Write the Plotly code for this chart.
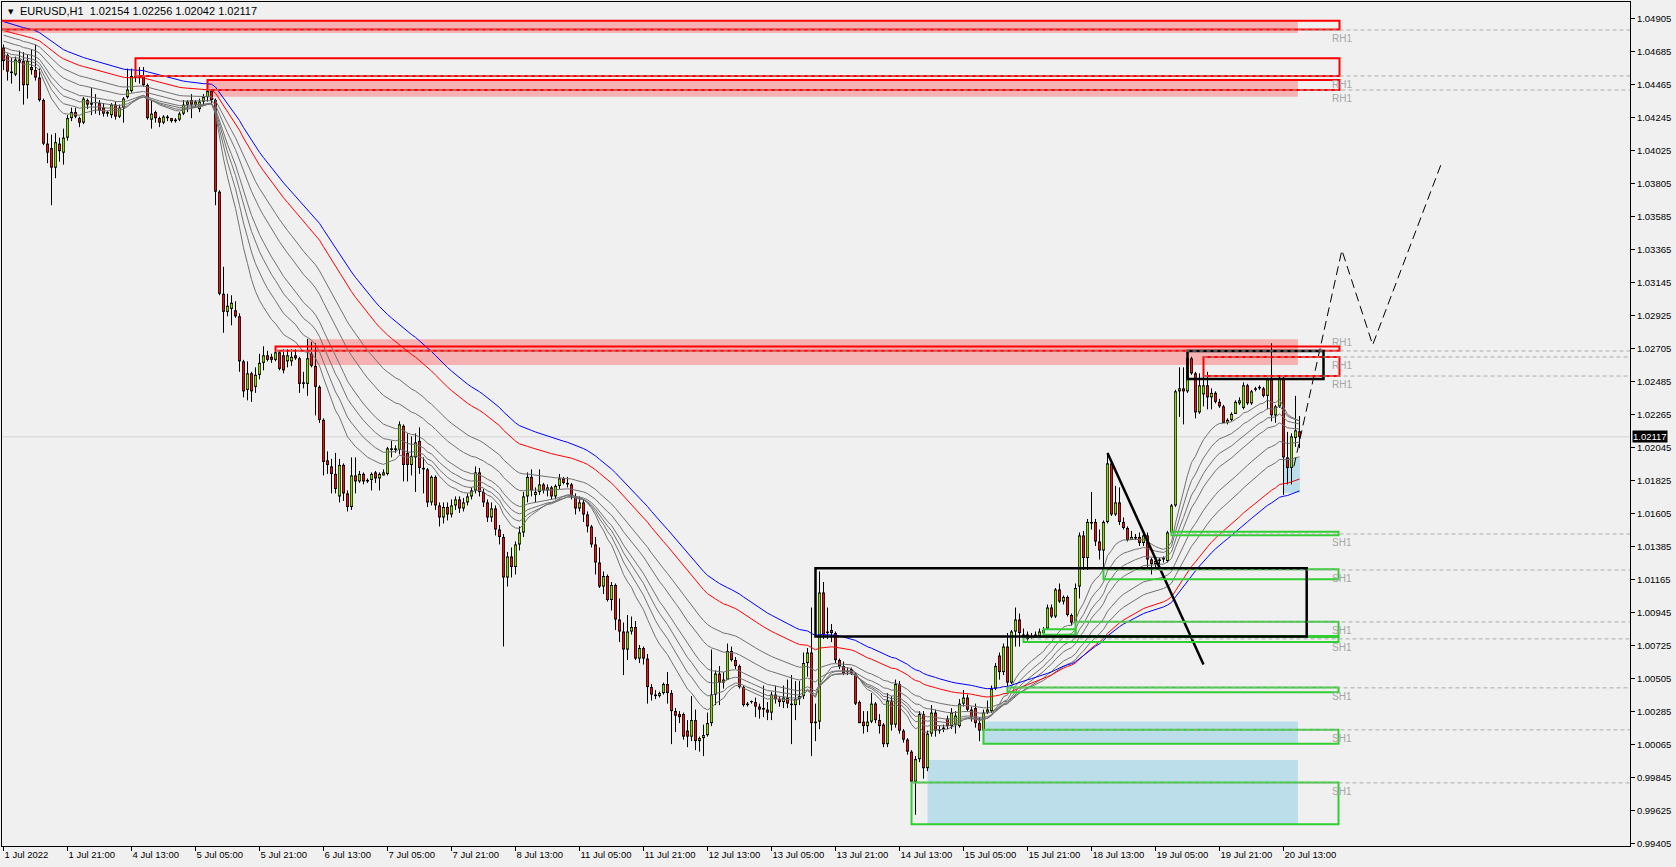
import plotly.graph_objects as go

# EURUSD H1, bar 0 = 1 Jul 2022 05:00, bar 324 = 20 Jul 2022 17:00
opens = [
    1.0471, 1.0466, 1.0455, 1.0453, 1.0463, 1.0462, 1.0446, 1.0458, 1.0456, 1.0451,  # 0
    1.0436, 1.0407, 1.0404, 1.0391, 1.0407, 1.0401, 1.0411, 1.0424, 1.0428, 1.0424,  # 10
    1.0421, 1.0436, 1.0434, 1.0434, 1.0434, 1.0431, 1.0428, 1.0426, 1.0433, 1.0425,  # 20
    1.0431, 1.0438, 1.0442, 1.0452, 1.0451, 1.0452, 1.0446, 1.0423, 1.0428, 1.0424,  # 30
    1.0421, 1.0424, 1.0424, 1.0422, 1.0423, 1.0427, 1.0433, 1.0436, 1.0433, 1.0430,  # 40
    1.0435, 1.0438, 1.0442, 1.0436, 1.0375, 1.0307, 1.0295, 1.0297, 1.0296, 1.0292,  # 50
    1.0262, 1.0243, 1.0254, 1.0245, 1.0253, 1.0261, 1.0266, 1.0265, 1.0263, 1.0268,  # 60
    1.0266, 1.0262, 1.0262, 1.0266, 1.0264, 1.0247, 1.0247, 1.0267, 1.0259, 1.0245,  # 70
    1.0223, 1.0196, 1.0192, 1.0187, 1.0172, 1.0193, 1.0174, 1.0165, 1.0186, 1.0182,  # 80
    1.0187, 1.0182, 1.0183, 1.0188, 1.0184, 1.0186, 1.0187, 1.0204, 1.0204, 1.0203,  # 90
    1.0219, 1.0201, 1.0193, 1.0198, 1.0209, 1.0191, 1.0190, 1.0168, 1.0185, 1.0166,  # 100
    1.0158, 1.0165, 1.0160, 1.0166, 1.0170, 1.0164, 1.0168, 1.0172, 1.0176, 1.0188,  # 110
    1.0175, 1.0168, 1.0158, 1.0164, 1.0150, 1.0145, 1.0118, 1.0132, 1.0125, 1.0140,  # 120
    1.0148, 1.0172, 1.0185, 1.0173, 1.0175, 1.0180, 1.0176, 1.0178, 1.0172, 1.0179,  # 130
    1.0184, 1.0181, 1.0180, 1.0172, 1.0164, 1.0168, 1.0160, 1.0152, 1.0140, 1.0128,  # 140
    1.0112, 1.0119, 1.0103, 1.0113, 1.0090, 1.0082, 1.0070, 1.0082, 1.0085, 1.0064,  # 150
    1.0071, 1.0064, 1.0045, 1.0040, 1.0039, 1.0041, 1.0047, 1.0041, 1.0029, 1.0027,  # 160
    1.0027, 1.0016, 1.0012, 1.0023, 1.0009, 1.0011, 1.0013, 1.0021, 1.0040, 1.0054,  # 170
    1.0048, 1.0050, 1.0069, 1.0063, 1.0059, 1.0045, 1.0033, 1.0035, 1.0035, 1.0032,  # 180
    1.0031, 1.0030, 1.0028, 1.0040, 1.0037, 1.0035, 1.0038, 1.0034, 1.0033, 1.0037,  # 190
    1.0039, 1.0061, 1.0068, 1.0021, 1.0022, 1.0108, 1.0082, 1.0083, 1.0081, 1.0063,  # 200
    1.0059, 1.0055, 1.0057, 1.0054, 1.0035, 1.0022, 1.0019, 1.0022, 1.0034, 1.0023,  # 210
    1.0020, 1.0007, 1.0036, 1.0020, 1.0047, 1.0016, 1.0010, 1.0002, 0.9982, 0.9997,  # 220
    1.0027, 0.9991, 1.0014, 1.0028, 1.0016, 1.0017, 1.0024, 1.0019, 1.0020, 1.0019,  # 230
    1.0034, 1.0038, 1.0030, 1.0031, 1.0021, 1.0016, 1.0028, 1.0029, 1.0044, 1.0066,  # 240
    1.0055, 1.0072, 1.0048, 1.0082, 1.0090, 1.0080, 1.0080, 1.0078, 1.0079, 1.0079,  # 250
    1.0081, 1.0084, 1.0098, 1.0092, 1.0110, 1.0102, 1.0105, 1.0093, 1.0088, 1.0112,  # 260
    1.0146, 1.0131, 1.0155, 1.0155, 1.0142, 1.0136, 1.0155, 1.0194, 1.0160, 1.0168,  # 270
    1.0155, 1.0151, 1.0143, 1.0144, 1.0145, 1.0141, 1.0146, 1.0130, 1.0127, 1.0129,  # 280
    1.0130, 1.0129, 1.0148, 1.0166, 1.0242, 1.0244, 1.0242, 1.0264, 1.0254, 1.0228,  # 290
    1.0240, 1.0246, 1.0238, 1.0241, 1.0235, 1.0232, 1.0221, 1.0223, 1.0227, 1.0234,  # 300
    1.0231, 1.0246, 1.0234, 1.0243, 1.0244, 1.0244, 1.0239, 1.0250, 1.0226, 1.0232,  # 310
    1.0251, 1.0198, 1.0191, 1.0211, 1.02154,                                          # 320
]
highs = [
    1.0473, 1.0467, 1.0464, 1.0465, 1.0469, 1.0468, 1.0466, 1.0470, 1.0473, 1.0457,
    1.0437, 1.0414, 1.0413, 1.0414, 1.0411, 1.0417, 1.0426, 1.0431, 1.0431, 1.0425,
    1.0438, 1.0437, 1.0444, 1.0440, 1.0436, 1.0434, 1.0429, 1.0434, 1.0435, 1.0433,
    1.0438, 1.0457, 1.0457, 1.0458, 1.0458, 1.0458, 1.0447, 1.0436, 1.0429, 1.0425,
    1.0426, 1.0426, 1.0424, 1.0424, 1.0428, 1.0436, 1.0436, 1.0440, 1.0436, 1.0437,
    1.0440, 1.0443, 1.0443, 1.0437, 1.0376, 1.0325, 1.0307, 1.0306, 1.0302, 1.0294,
    1.0263, 1.0262, 1.0255, 1.0258, 1.0267, 1.0272, 1.0269, 1.0267, 1.0270, 1.0269,
    1.0270, 1.0270, 1.0270, 1.0270, 1.0265, 1.0255, 1.0277, 1.0275, 1.0274, 1.0246,
    1.0224, 1.0202, 1.0197, 1.0201, 1.0197, 1.0194, 1.0176, 1.0198, 1.0198, 1.0189,
    1.0188, 1.0184, 1.0188, 1.0189, 1.0188, 1.0190, 1.0205, 1.0209, 1.0206, 1.0222,
    1.0220, 1.0214, 1.0212, 1.0214, 1.0218, 1.0198, 1.0191, 1.0186, 1.0186, 1.0168,
    1.0168, 1.0168, 1.0170, 1.0172, 1.0172, 1.0171, 1.0174, 1.0178, 1.0192, 1.0191,
    1.0177, 1.0170, 1.0168, 1.0166, 1.0153, 1.0147, 1.0135, 1.0138, 1.0142, 1.0152,
    1.0175, 1.0188, 1.0190, 1.0178, 1.0190, 1.0181, 1.0180, 1.0179, 1.0180, 1.0187,
    1.0185, 1.0185, 1.0181, 1.0174, 1.0172, 1.0170, 1.0162, 1.0153, 1.0145, 1.0138,
    1.0122, 1.0120, 1.0115, 1.0114, 1.0104, 1.0088, 1.0093, 1.0092, 1.0089, 1.0073,
    1.0072, 1.0067, 1.0047, 1.0043, 1.0042, 1.0048, 1.0055, 1.0043, 1.0031, 1.0029,
    1.0028, 1.0023, 1.0039, 1.0030, 1.0012, 1.0020, 1.0028, 1.0070, 1.0056, 1.0059,
    1.0055, 1.0074, 1.0072, 1.0065, 1.0060, 1.0046, 1.0035, 1.0036, 1.0038, 1.0034,
    1.0046, 1.0035, 1.0042, 1.0046, 1.0039, 1.0046, 1.0050, 1.0053, 1.0049, 1.0049,
    1.0068, 1.0071, 1.0098, 1.0034, 1.0122, 1.0115, 1.0098, 1.0087, 1.0082, 1.0064,
    1.0062, 1.0058, 1.0058, 1.0055, 1.0036, 1.0029, 1.0029, 1.0041, 1.0035, 1.0027,
    1.0021, 1.0041, 1.0039, 1.0050, 1.0049, 1.0017, 1.0011, 1.0003, 0.9999, 1.0029,
    1.0029, 1.0016, 1.0033, 1.0030, 1.0019, 1.0020, 1.0026, 1.0031, 1.0029, 1.0037,
    1.0043, 1.0040, 1.0032, 1.0034, 1.0025, 1.0030, 1.0036, 1.0046, 1.0061, 1.0068,
    1.0074, 1.0081, 1.0083, 1.0098, 1.0094, 1.0084, 1.0082, 1.0081, 1.0082, 1.0084,
    1.0085, 1.0100, 1.0100, 1.0111, 1.0114, 1.0106, 1.0106, 1.0094, 1.0114, 1.0148,
    1.0149, 1.0157, 1.0175, 1.0157, 1.0150, 1.0156, 1.0201, 1.0195, 1.0179, 1.0178,
    1.0158, 1.0152, 1.0149, 1.0147, 1.0148, 1.0149, 1.0148, 1.0131, 1.0131, 1.0131,
    1.0132, 1.0149, 1.0167, 1.0243, 1.0258, 1.0258, 1.0269, 1.0265, 1.0255, 1.0254,
    1.0254, 1.0255, 1.0244, 1.0242, 1.0237, 1.0233, 1.0224, 1.0228, 1.0236, 1.0238,
    1.0248, 1.0247, 1.0243, 1.0245, 1.0246, 1.0245, 1.0251, 1.0274, 1.0233, 1.0252,
    1.0252, 1.0215, 1.0214, 1.0239, 1.02256,
]
lows = [
    1.0456, 1.0449, 1.0447, 1.0452, 1.0442, 1.0433, 1.0437, 1.0453, 1.0449, 1.0435,
    1.0406, 1.0394, 1.0366, 1.0384, 1.0395, 1.0393, 1.0409, 1.0422, 1.0424, 1.0418,
    1.0420, 1.0430, 1.0426, 1.0427, 1.0426, 1.0425, 1.0425, 1.0424, 1.0423, 1.0424,
    1.0421, 1.0437, 1.0441, 1.0448, 1.0447, 1.0445, 1.0423, 1.0417, 1.0421, 1.0418,
    1.0420, 1.0422, 1.0421, 1.0421, 1.0422, 1.0426, 1.0428, 1.0424, 1.0431, 1.0428,
    1.0433, 1.0435, 1.0434, 1.0366, 1.0306, 1.0281, 1.0292, 1.0286, 1.0291, 1.0255,
    1.0238, 1.0236, 1.0235, 1.0241, 1.0250, 1.0256, 1.0262, 1.0261, 1.0262, 1.0256,
    1.0254, 1.0258, 1.0259, 1.0263, 1.0241, 1.0244, 1.0239, 1.0258, 1.0226, 1.0221,
    1.0186, 1.0187, 1.0174, 1.0174, 1.0168, 1.0169, 1.0162, 1.0163, 1.0174, 1.0181,
    1.0180, 1.0181, 1.0176, 1.0181, 1.0176, 1.0186, 1.0186, 1.0198, 1.0201, 1.0200,
    1.0182, 1.0182, 1.0186, 1.0175, 1.0187, 1.0174, 1.0165, 1.0166, 1.0163, 1.0152,
    1.0154, 1.0156, 1.0158, 1.0163, 1.0161, 1.0162, 1.0166, 1.0170, 1.0174, 1.0172,
    1.0165, 1.0155, 1.0155, 1.0146, 1.0140, 1.0072, 1.0112, 1.0118, 1.0120, 1.0136,
    1.0145, 1.0168, 1.0172, 1.0168, 1.0173, 1.0174, 1.0172, 1.0170, 1.0170, 1.0177,
    1.0180, 1.0178, 1.0170, 1.0160, 1.0162, 1.0155, 1.0148, 1.0138, 1.0120, 1.0111,
    1.0107, 1.0102, 1.0096, 1.0083, 1.0075, 1.0053, 1.0063, 1.0080, 1.0063, 1.0061,
    1.0060, 1.0034, 1.0036, 1.0037, 1.0038, 1.0040, 1.0034, 1.0007, 1.0015, 1.0021,
    1.0010, 1.0005, 1.0009, 1.0003, 1.0002, 0.9999, 1.0012, 1.0019, 1.0033, 1.0033,
    1.0044, 1.0050, 1.0062, 1.0057, 1.0044, 1.0032, 1.0032, 1.0034, 1.0025, 1.0024,
    1.0025, 1.0023, 1.0023, 1.0034, 1.0032, 1.0031, 1.0031, 1.0007, 1.0023, 1.0033,
    1.0037, 1.0052, 0.9999, 1.0009, 1.0017, 1.0077, 1.0077, 1.0075, 1.0061, 1.0057,
    1.0053, 1.0053, 1.0053, 1.0033, 1.0021, 1.0014, 1.0015, 1.0021, 1.0021, 1.0014,
    1.0005, 1.0005, 1.0016, 1.0018, 1.0014, 1.0008, 1.0000, 0.9981, 0.9960, 0.9995,
    0.9984, 0.9989, 1.0012, 1.0012, 1.0014, 1.0015, 1.0017, 1.0017, 1.0014, 1.0018,
    1.0032, 1.0029, 1.0022, 1.0018, 1.0009, 1.0014, 1.0027, 1.0028, 1.0043, 1.0050,
    1.0053, 1.0043, 1.0047, 1.0072, 1.0072, 1.0075, 1.0076, 1.0077, 1.0078, 1.0078,
    1.0080, 1.0083, 1.0091, 1.0091, 1.0101, 1.0100, 1.0092, 1.0086, 1.0087, 1.0104,
    1.0123, 1.0123, 1.0150, 1.0139, 1.0130, 1.0123, 1.0154, 1.0159, 1.0159, 1.0153,
    1.0150, 1.0142, 1.0143, 1.0143, 1.0139, 1.0139, 1.0124, 1.0120, 1.0125, 1.0126,
    1.0128, 1.0128, 1.0146, 1.0165, 1.0225, 1.0220, 1.0241, 1.0253, 1.0224, 1.0227,
    1.0232, 1.0230, 1.0230, 1.0234, 1.0231, 1.0221, 1.0220, 1.0222, 1.0227, 1.0233,
    1.0230, 1.0233, 1.0233, 1.0242, 1.0243, 1.0238, 1.0230, 1.0222, 1.0221, 1.0231,
    1.0173, 1.0180, 1.0180, 1.0205, 1.02042,
]
closes = [
    1.0462, 1.0455, 1.0454, 1.0463, 1.0461, 1.0446, 1.0462, 1.0456, 1.0451, 1.0436,
    1.0407, 1.0401, 1.0391, 1.0408, 1.0402, 1.0411, 1.0424, 1.0428, 1.0425, 1.0421,
    1.0437, 1.0433, 1.0433, 1.0434, 1.0429, 1.0427, 1.0427, 1.0433, 1.0425, 1.0431,
    1.0437, 1.0443, 1.0452, 1.0451, 1.0452, 1.0446, 1.0424, 1.0427, 1.0424, 1.0421,
    1.0425, 1.0425, 1.0422, 1.0423, 1.0427, 1.0433, 1.0435, 1.0433, 1.0435, 1.0435,
    1.0438, 1.0442, 1.0436, 1.0375, 1.0307, 1.0295, 1.0299, 1.0301, 1.0292, 1.0262,
    1.0242, 1.0254, 1.0242, 1.0253, 1.0261, 1.0266, 1.0263, 1.0263, 1.0268, 1.0257,
    1.0256, 1.0266, 1.0265, 1.0264, 1.0247, 1.0248, 1.0264, 1.0259, 1.0245, 1.0223,
    1.0195, 1.0193, 1.0187, 1.0177, 1.0193, 1.0174, 1.0165, 1.0186, 1.0182, 1.0187,
    1.0182, 1.0183, 1.0187, 1.0184, 1.0187, 1.0188, 1.0204, 1.0203, 1.0203, 1.0220,
    1.0193, 1.0193, 1.0199, 1.0208, 1.0191, 1.0190, 1.0168, 1.0185, 1.0166, 1.0158,
    1.0165, 1.0160, 1.0166, 1.0170, 1.0164, 1.0168, 1.0172, 1.0176, 1.0188, 1.0175,
    1.0168, 1.0158, 1.0164, 1.0150, 1.0145, 1.0118, 1.0132, 1.0125, 1.0140, 1.0148,
    1.0172, 1.0185, 1.0176, 1.0175, 1.0180, 1.0176, 1.0178, 1.0172, 1.0179, 1.0184,
    1.0181, 1.0180, 1.0172, 1.0164, 1.0168, 1.0160, 1.0152, 1.0140, 1.0128, 1.0112,
    1.0119, 1.0103, 1.0113, 1.0090, 1.0082, 1.0070, 1.0082, 1.0085, 1.0064, 1.0071,
    1.0064, 1.0045, 1.0040, 1.0039, 1.0041, 1.0047, 1.0041, 1.0029, 1.0026, 1.0025,
    1.0012, 1.0012, 1.0023, 1.0009, 1.0011, 1.0013, 1.0021, 1.0040, 1.0054, 1.0048,
    1.0050, 1.0069, 1.0063, 1.0059, 1.0045, 1.0033, 1.0034, 1.00352, 1.0032, 1.0030,
    1.0030, 1.0028, 1.0040, 1.0037, 1.0035, 1.0038, 1.0034, 1.0033, 1.0037, 1.0039,
    1.0061, 1.0068, 1.0021, 1.0022, 1.0108, 1.0080, 1.0081, 1.0081, 1.0063, 1.0059,
    1.0054, 1.0056, 1.0054, 1.0034, 1.0021, 1.0019, 1.0022, 1.0034, 1.0023, 1.0019,
    1.0007, 1.0036, 1.0020, 1.0047, 1.0016, 1.0010, 1.0002, 0.9982, 0.9997, 1.0027,
    0.9991, 1.0014, 1.0028, 1.0016, 1.0017, 1.0018, 1.0019, 1.0028, 1.0026, 1.0034,
    1.0038, 1.0030, 1.0025, 1.0021, 1.0016, 1.0028, 1.0030, 1.0044, 1.0059, 1.0055,
    1.0072, 1.0048, 1.0082, 1.0090, 1.0081, 1.0079, 1.0077, 1.0079, 1.0080, 1.0082,
    1.0083, 1.0098, 1.0092, 1.0110, 1.0102, 1.0105, 1.0093, 1.0088, 1.0111, 1.0146,
    1.0131, 1.0155, 1.0154, 1.0142, 1.0136, 1.0155, 1.0194, 1.0160, 1.0168, 1.0155,
    1.0151, 1.0143, 1.0145, 1.0145, 1.0141, 1.0146, 1.0130, 1.0127, 1.0129, 1.0130,
    1.0131, 1.0148, 1.0166, 1.0242, 1.0244, 1.0242, 1.0264, 1.0254, 1.0228, 1.0246,
    1.0246, 1.0238, 1.0241, 1.0235, 1.0232, 1.0221, 1.0223, 1.0227, 1.0235, 1.0236,
    1.0246, 1.0234, 1.0242, 1.0244, 1.0245, 1.0239, 1.0250, 1.0226, 1.0232, 1.0251,
    1.0198, 1.0191, 1.0212, 1.0216, 1.02117,
]
bars = list(range(len(closes)))

tick_bars = [0, 16, 32, 48, 64, 80, 96, 112, 128, 144, 160,
             176, 192, 208, 224, 240, 256, 272, 288, 304, 320]
tick_text = ["1 Jul 2022", "1 Jul 21:00", "4 Jul 13:00", "5 Jul 05:00", "5 Jul 21:00",
             "6 Jul 13:00", "7 Jul 05:00", "7 Jul 21:00", "8 Jul 13:00", "11 Jul 05:00",
             "11 Jul 21:00", "12 Jul 13:00", "13 Jul 05:00", "13 Jul 21:00", "14 Jul 13:00",
             "15 Jul 05:00", "15 Jul 21:00", "18 Jul 13:00", "19 Jul 05:00", "19 Jul 21:00",
             "20 Jul 13:00"]
price_ticks = [1.04905, 1.04685, 1.04465, 1.04245, 1.04025, 1.03805, 1.03585, 1.03365,
               1.03145, 1.02925, 1.02705, 1.02485, 1.02265, 1.02045, 1.01825, 1.01605,
               1.01385, 1.01165, 1.00945, 1.00725, 1.00505, 1.00285, 1.00065, 0.99845,
               0.99625, 0.99405]
last_price = 1.02117

# moving average ribbon: period, value just before bar 0, colour
ma_periods = [15, 20, 25, 30, 40, 50, 66, 76]
ma_seeds = [1.0464, 1.0467, 1.0469, 1.0472, 1.0476, 1.0480, 1.0483, 1.0489]
ma_colors = ["#707070"] * 6 + ["#FF0000", "#0000FF"]

# resistance zones (red outline) and their pink fills
red_start = [-2, 33, 51, 68, 300]
red_top = [1.04889, 1.04639, 1.04494, 1.02718, 1.02649]
red_bottom = [1.04830, 1.04521, 1.04427, 1.02691, 1.02522]
pink_start = [-2, 51, 76]
pink_top = [1.04889, 1.04494, 1.02767]
pink_bottom = [1.04807, 1.04383, 1.02596]

# support zones (green outline) and light-blue fills
green_start = [292, 275, 268, 260, 255, 251, 245, 227]
green_end = [333.75, 333.75, 333.75, 268, 333.75, 333.75, 333.75, 333.75]
green_top = [1.01485, 1.01235, 1.00886, 1.00836, 1.00783, 1.00447, 1.00165, 0.99814]
green_bottom = [1.01462, 1.01168, 1.00791, 1.00798, 1.00750, 1.00416, 1.00072, 0.99537]
blue_start = [245, 231, 320]
blue_end = [323.6, 323.6, 324.1]
blue_top = [1.00220, 0.99965, 1.01977]
blue_bottom = [1.00072, 0.99537, 1.01744]

# level lines with their labels
level_price = [1.04827, 1.04521, 1.04427, 1.02689, 1.02649, 1.02522,
               1.01470, 1.01230, 1.00884, 1.00771, 1.00445, 1.00165, 0.99812]
level_start = [-2, 33, 51, 68, 300, 300, 292, 275, 268, 255, 251, 245, 227]
level_label = ["RH1"] * 6 + ["SH1"] * 7

# hand drawn objects
box_x0 = [296, 203]
box_x1 = [330, 325.8]
box_top = [1.02689, 1.01242]
box_bottom = [1.02502, 1.00787]
trend_bars = [276, 300]
trend_prices = [1.0201, 1.0060]
proj_bars = [322.6, 334.6, 342.3, 359.5]
proj_prices = [1.0192, 1.0336, 1.0273, 1.0394]

X_RANGE = [-0.375, 406.625]
Y_RANGE = [0.993914, 1.050136]
PLOT_H = 867 - 2 - 21
PX = (Y_RANGE[1] - Y_RANGE[0]) / PLOT_H      # one screen pixel in price units
ZONE_END = 334
FILL_END = 323.6
LABEL_X = 331.5
LABEL_ABOVE = {3}          # this label sits over its line so it does not hit the next one
FONT = "Liberation Sans"
BULL, BEAR = "#8CD91C", "#D11E1E"


def ema(values, period, seed):
    a = 2.0 / (period + 1)
    out, v = [], seed
    for c in values:
        v = v + a * (c - v)
        out.append(v)
    return out


def segments(xs, lo, hi):
    sx, sy = [], []
    for x, a, b in zip(xs, lo, hi):
        sx += [x, x, None]
        sy += [a, b, None]
    return sx, sy


# candles: black wick, 3 px black body, coloured core
body_lo = [min(o, c) for o, c in zip(opens, closes)]
body_hi = [max(max(o, c), min(o, c) + PX) for o, c in zip(opens, closes)]
wick_x, wick_y = segments(bars, lows, highs)
body_x, body_y = segments(bars, body_lo, body_hi)
core = {BULL: ([], [], []), BEAR: ([], [], [])}
for i, o, c, lo, hi in zip(bars, opens, closes, body_lo, body_hi):
    if hi - lo > 2.5 * PX:
        k = core[BULL if c >= o else BEAR]
        k[0].append(i)
        k[1].append(lo + PX)
        k[2].append(hi - PX)

fig = go.Figure()
fig.add_trace(go.Scatter(x=wick_x, y=wick_y, mode="lines", line=dict(color="black", width=1),
                         showlegend=False, hoverinfo="skip"))
fig.add_trace(go.Scatter(x=body_x, y=body_y, mode="lines", line=dict(color="black", width=3),
                         showlegend=False, hoverinfo="skip"))
for col, (cx, clo, chi) in core.items():
    sx, sy = segments(cx, clo, chi)
    fig.add_trace(go.Scatter(x=sx, y=sy, mode="lines", line=dict(color=col, width=1.7),
                             showlegend=False, hoverinfo="skip"))

for p, s, c in zip(ma_periods, ma_seeds, ma_colors):
    fig.add_trace(go.Scatter(x=bars, y=ema(closes, p, s), mode="lines",
                             line=dict(color=c, width=1), showlegend=False, hoverinfo="skip"))

fig.add_trace(go.Scatter(x=trend_bars, y=trend_prices, mode="lines",
                         line=dict(color="black", width=2.5), showlegend=False, hoverinfo="skip"))
fig.add_trace(go.Scatter(x=proj_bars, y=proj_prices, mode="lines",
                         line=dict(color="black", width=1, dash="9px,5px"),
                         showlegend=False, hoverinfo="skip"))

shapes = []
shapes.append(dict(type="line", xref="paper", x0=0, x1=1, yref="y", y0=last_price, y1=last_price,
                   line=dict(color="#D4D4D4", width=1), layer="below"))
for s, t, b in zip(pink_start, pink_top, pink_bottom):
    shapes.append(dict(type="rect", x0=s, x1=FILL_END, y0=b, y1=t, fillcolor="rgb(246,178,178)",
                       line=dict(width=0), layer="below"))
for s, e, t, b in zip(blue_start, blue_end, blue_top, blue_bottom):
    shapes.append(dict(type="rect", x0=s, x1=e, y0=b, y1=t, fillcolor="rgb(187,222,234)",
                       line=dict(width=0), layer="below"))
for s, t, b in zip(red_start, red_top, red_bottom):
    shapes.append(dict(type="rect", x0=s, x1=ZONE_END, y0=b, y1=t,
                       line=dict(color="#FF0000", width=2)))
for s, e, t, b in zip(green_start, green_end, green_top, green_bottom):
    shapes.append(dict(type="rect", x0=s, x1=e, y0=b, y1=t,
                       line=dict(color="rgb(50,205,50)", width=2)))
for x0, x1, t, b in zip(box_x0, box_x1, box_top, box_bottom):
    shapes.append(dict(type="rect", x0=x0, x1=x1, y0=b, y1=t,
                       line=dict(color="black", width=2.5)))
for p, s in zip(level_price, level_start):
    shapes.append(dict(type="line", x0=s, x1=X_RANGE[1], y0=p, y1=p,
                       line=dict(color="#ABABAB", width=1, dash="4px,3px")))

annotations = []
for k, (p, lab) in enumerate(zip(level_price, level_label)):
    above = k in LABEL_ABOVE
    annotations.append(dict(x=LABEL_X, y=p, text=lab, showarrow=False, xanchor="left",
                            yanchor="bottom" if above else "top", yshift=1 if above else -1,
                            font=dict(family=FONT, size=10, color="#A6A6A6")))
annotations.append(dict(xref="paper", yref="paper", x=0, y=1, xanchor="left", yanchor="top",
                        xshift=4, yshift=-4, text="▼", showarrow=False,
                        font=dict(family="DejaVu Sans", size=7, color="black")))
annotations.append(dict(xref="paper", yref="paper", x=0, y=1, xanchor="left", yanchor="top",
                        xshift=16, yshift=-1,
                        text="EURUSD,H1\u00a0\u00a01.02154 1.02256 1.02042 1.02117",
                        showarrow=False, font=dict(family=FONT, size=11, color="black")))
annotations.append(dict(xref="paper", yref="y", x=1, y=last_price, xanchor="left",
                        yanchor="middle", xshift=2, text="%.5f" % last_price, showarrow=False,
                        bgcolor="black", borderpad=0,
                        font=dict(family=FONT, size=9.5, color="white")))

fig.update_layout(
    width=1676, height=867,
    margin=dict(l=2, r=46, t=2, b=21),
    paper_bgcolor="#F0F0F0", plot_bgcolor="#F0F0F0",
    template="none",
    showlegend=False,
    shapes=shapes, annotations=annotations,
    xaxis=dict(range=X_RANGE, showgrid=False, zeroline=False, showline=True, mirror=True,
               linecolor="black", linewidth=1, tickmode="array", tickvals=tick_bars,
               ticktext=tick_text, ticks="outside", ticklen=4, tickcolor="black",
               ticklabelposition="outside right",
               tickfont=dict(family=FONT, size=9.5, color="black"), fixedrange=True),
    yaxis=dict(range=Y_RANGE, side="right", showgrid=False, zeroline=False, showline=True,
               mirror=True, linecolor="black", linewidth=1, tickmode="array",
               tickvals=price_ticks, ticktext=["%.5f" % v for v in price_ticks],
               ticks="outside", ticklen=4, tickcolor="black",
               tickfont=dict(family=FONT, size=9.5, color="black"), fixedrange=True),
)

fig.write_html("out.html", config={"displayModeBar": False},
               post_script="document.body.style.margin='0';"
                           "document.body.style.overflow='hidden';")
